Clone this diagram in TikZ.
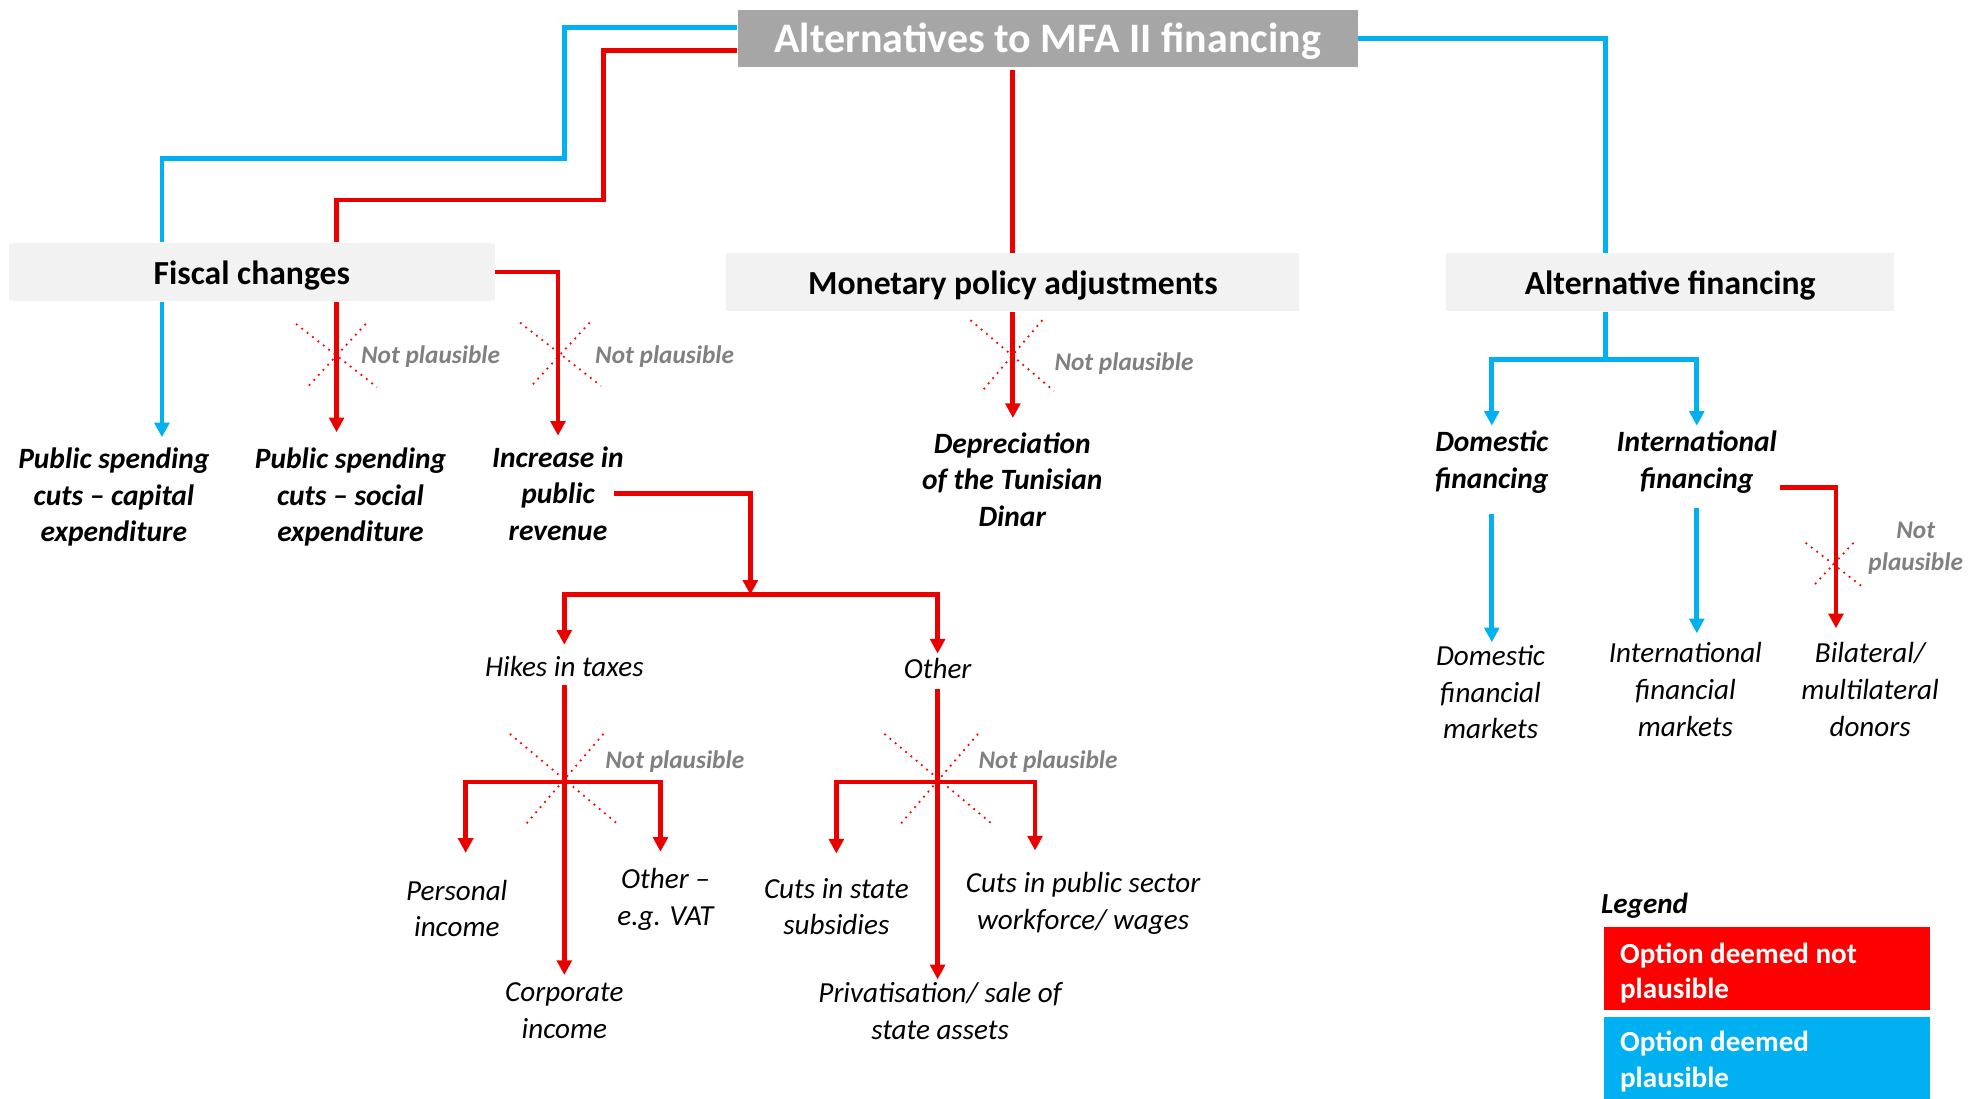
\documentclass[tikz,border=0pt]{standalone}
\usepackage{fontspec}
\setmainfont{Carlito}
\usetikzlibrary{arrows.meta}
\definecolor{nored}{RGB}{235,0,0}
\definecolor{legred}{RGB}{255,0,0}
\definecolor{okblue}{RGB}{0,176,240}
\definecolor{titlegray}{RGB}{166,166,166}
\definecolor{boxgray}{RGB}{242,242,242}
\definecolor{npgray}{RGB}{128,128,128}
\tikzset{
  conn/.style={line width=1.9pt},
  noline/.style={conn, draw=nored},
  okline/.style={conn, draw=okblue},
  tip/.style={-{Triangle[width=5.8pt,length=5.8pt]}},
  headbox/.style={fill=titlegray, text=white, minimum width=245pt, minimum height=22.5pt,
    text height=13.5pt, text depth=2.2pt, font=\bfseries\fontsize{16.6}{18}\selectfont},
  catbox/.style={fill=boxgray, minimum height=23pt, text height=11pt, text depth=1.2pt,
    font=\bfseries\fontsize{13.3}{15}\selectfont},
  leafbold/.style={align=center, inner sep=1pt, font=\bfseries\itshape\fontsize{11.65}{14.5}\selectfont},
  leaf/.style={align=center, inner sep=1pt, font=\itshape\fontsize{11.5}{14.5}\selectfont},
  nptext/.style={text=npgray, inner sep=0pt, anchor=west, font=\bfseries\itshape\fontsize{10}{12.5}\selectfont},
  legtext/.style={text=white, align=left, inner sep=0pt, anchor=west, font=\bfseries\fontsize{11.5}{14}\selectfont},
  crossdot/.style={draw=red, dotted, line width=0.7pt},
  nocross/.pic={\draw[crossdot] (-1,-1) -- (1,1) (0.72,-1) -- (-0.72,1);},
}
\begin{document}
\begin{tikzpicture}[x=0.5pt,y=-0.5pt]
\useasboundingbox (0,0) rectangle (1568,868);
% Boxes.
\node[headbox] (title) at (828,30.5) {Alternatives to MFA II financing};
\node[catbox, minimum width=192pt] (fiscal) at (199,215) {Fiscal changes};
\node[catbox, minimum width=226.5pt] (monetary) at (800.5,223) {Monetary policy adjustments};
\node[catbox, minimum width=177pt] (altfin) at (1320,223) {Alternative financing};
% Options.
\node[leafbold] (pubcap) at (90,393) {Public spending\\cuts – capital\\expenditure};
\node[leafbold] (pubsoc) at (277,393) {Public spending\\cuts – social\\expenditure};
\node[leafbold] (increase) at (441,390) {Increase in\\public\\revenue};
\node[leafbold] (dinar) at (800,379) {Depreciation\\of the Tunisian\\Dinar};
\node[leafbold] (domfin) at (1179,365.5) {Domestic\\financing};
\node[leafbold] (intfin) at (1341,365.5) {International\\financing};
\node[leaf] (hikes) at (446,527) {Hikes in taxes};
\node[leaf] (other) at (741,528) {Other};
\node[leaf] (persinc) at (361,718) {Personal\\income};
\node[leaf] (vat) at (526,711) {Other –\\e.g. VAT};
\node[leaf] (corpinc) at (446,799) {Corporate\\income};
\node[leaf] (subsid) at (661,716.5) {Cuts in state\\subsidies};
\node[leaf] (wages) at (856,714) {Cuts in public sector\\workforce/ wages};
\node[leaf] (privat) at (743,799) {Privatisation/ sale of\\state assets};
\node[leaf] (dommkt) at (1178,547) {Domestic\\financial\\markets};
\node[leaf] (intmkt) at (1332,545) {International\\financial\\markets};
\node[leaf] (donors) at (1478,545) {Bilateral/\\multilateral\\donors};
% Bends and splits.
\coordinate (blueknee) at (446,125);
\coordinate (redknee) at (477,158);
\coordinate (capx) at (128,0);
\coordinate (socx) at (266,0);
\coordinate (altx) at (1269,0);
\coordinate (altsplit) at (1269,284);
\coordinate (revsplit) at (593,470);
\coordinate (taxsplit) at (447,618);
\coordinate (othsplit) at (742,618);
% Fiscal changes.
\draw[okline] ([yshift=4.25pt]title.west) -| (blueknee) -| (fiscal.north -| capx);
\draw[noline] ([yshift=-4.75pt]title.west) -| (redknee) -| (fiscal.north -| socx);
\draw[okline,tip,shorten >=3pt] (fiscal.south -| capx) -- (pubcap.north -| capx);
\draw[noline,tip,shorten >=5pt] (fiscal.south -| socx) -- (pubsoc.north -| socx);
\draw[noline,tip,shorten >=3pt] (fiscal.east) -| (increase.north);
\draw[noline,tip] ([xshift=-5pt]increase.east) -| (revsplit);
\draw[noline,tip,shorten >=3.5pt] (revsplit) -| (hikes.north);
\draw[noline,tip,shorten >=0.5pt] (revsplit) -| (other.north);
\draw[noline,tip,shorten <=2pt,shorten >=2pt] (hikes.south) -- (hikes.south |- corpinc.north);
\draw[noline,tip,shorten >=9.5pt] (taxsplit) -| ([xshift=3.5pt]persinc.north);
\draw[noline,tip,shorten >=5.5pt] (taxsplit) -| ([xshift=-2pt]vat.north);
\draw[noline,tip,shorten <=3pt] (other.south) -- (other.south |- privat.north);
\draw[noline,tip,shorten >=8.5pt] (othsplit) -| (subsid.north);
\draw[noline,tip,shorten >=7.5pt] (othsplit) -| ([xshift=-19pt]wages.north);
% Monetary policy.
\draw[noline] ([yshift=-1pt]title.south -| monetary.north) -- (monetary.north);
\draw[noline,tip,shorten >=4.5pt] (monetary.south) -- (dinar.north -| monetary.south);
% Alternative financing.
\draw[okline] (title.east) -| (altfin.north -| altx);
\draw[okline] (altfin.south -| altx) -- (altsplit);
\draw[okline,tip,shorten >=1pt] (altsplit) -| (domfin.north);
\draw[okline,tip,shorten >=1pt] (altsplit) -| (intfin.north);
\draw[okline,tip,shorten <=7pt] (domfin.south) -- (domfin.south |- dommkt.north);
\draw[okline,tip,shorten <=4.5pt,shorten >=2.5pt] (intfin.south) -- (intfin.south |- intmkt.north);
\draw[noline,tip,shorten >=4.5pt] ([yshift=-9.75pt]intfin.east) -| ([xshift=-13.5pt]donors.north);
% Not plausible marks.
\pic[xscale=32,yscale=25] at (266,281) {nocross};
\node[nptext] (np1) at (285,282) {Not plausible};
\pic[xscale=32,yscale=25] at (443,280) {nocross};
\node[nptext] (np2) at (470,282) {Not plausible};
\pic[xscale=33,yscale=28] at (800,281) {nocross};
\node[nptext] (np3) at (833,287) {Not plausible};
\pic[xscale=43,yscale=36] at (446,616) {nocross};
\node[nptext] (np4) at (478,602) {Not plausible};
\pic[xscale=43,yscale=36] at (742,616) {nocross};
\node[nptext] (np5) at (773,602) {Not plausible};
\pic[xscale=22,yscale=17] at (1449,446) {nocross};
\node[nptext,anchor=center,align=center] (np6) at (1514,433.5) {Not\\plausible};
% Legend.
\node[anchor=west, inner sep=0pt, font=\bfseries\itshape\fontsize{11.5}{14}\selectfont] (legend) at (1265,716) {Legend};
\fill[legred] (1268,733) rectangle (1525,798);
\fill[okblue] (1268,804) rectangle (1525,869);
\node[legtext] (legno) at (1280,769) {Option deemed not\\plausible};
\node[legtext] (legok) at (1280,839) {Option deemed\\plausible};
\end{tikzpicture}
\end{document}
